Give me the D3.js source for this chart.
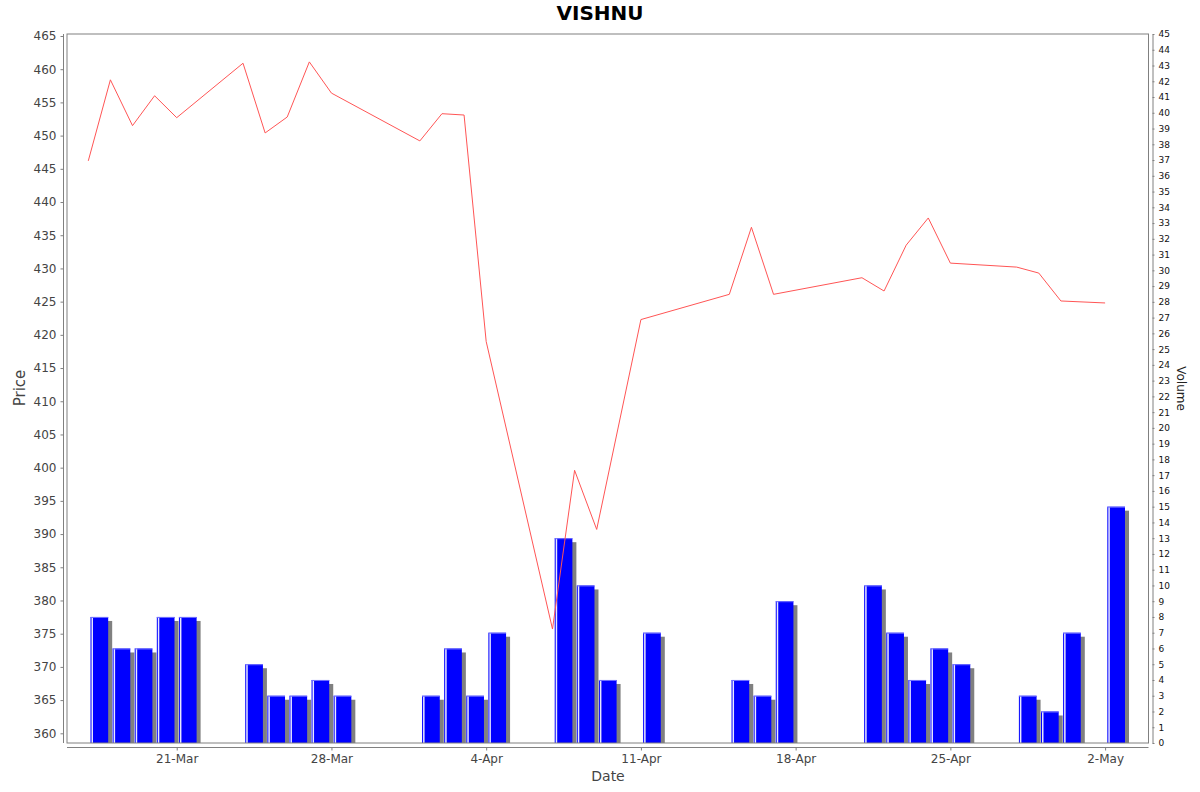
<!DOCTYPE html>
<html>
<head>
<meta charset="utf-8">
<script src="https://cdn.jsdelivr.net/npm/d3@7"></script>
<style>
  body { margin: 0; background: #fff; }
  text { font-family: "DejaVu Sans", sans-serif; }
</style>
</head>
<body>
<svg id="chart" width="1200" height="792"></svg>
<script>
// trading days (NSE, 2025)
const dates = ["2025-03-17", "2025-03-18", "2025-03-19", "2025-03-20", "2025-03-21",
               "2025-03-24", "2025-03-25", "2025-03-26", "2025-03-27", "2025-03-28",
               "2025-04-01", "2025-04-02", "2025-04-03", "2025-04-04",
               "2025-04-07", "2025-04-08", "2025-04-09", "2025-04-11",
               "2025-04-15", "2025-04-16", "2025-04-17",
               "2025-04-21", "2025-04-22", "2025-04-23", "2025-04-24", "2025-04-25",
               "2025-04-28", "2025-04-29", "2025-04-30", "2025-05-02"];
const prices = [446.2, 458.4, 451.5, 456.0, 452.7,
                460.9, 450.4, 452.8, 461.1, 456.4,
                449.2, 453.3, 453.1, 419.0,
                375.7, 399.6, 390.7, 422.3,
                426.1, 436.2, 426.1,
                428.6, 426.6, 433.5, 437.6, 430.8,
                430.2, 429.3, 425.1, 424.8];
const volumes = [8, 6, 6, 8, 8,
                 5, 3, 3, 4, 3,
                 3, 6, 3, 7,
                 13, 10, 4, 7,
                 4, 3, 9,
                 10, 7, 4, 6, 5,
                 3, 2, 7, 15];
const dateTicks = ["2025-03-21", "2025-03-28", "2025-04-04", "2025-04-11",
                   "2025-04-18", "2025-04-25", "2025-05-02"];
const priceTicks = d3.range(360, 466, 5);
const volumeTicks = d3.range(0, 46, 1);

const svg = d3.select("#chart");
const plotLeft = 67, plotRight = 1148.5, plotTop = 34, plotBottom = 743;
const parse = d3.utcParse("%Y-%m-%d");
const data = dates.map((d, i) => ({date: parse(d), price: prices[i], volume: volumes[i]}));

const x = d3.scaleUtc()
    .domain([Date.UTC(2025, 2, 16, 0, 53), Date.UTC(2025, 4, 3, 23, 7)])
    .range([plotLeft, plotRight]);
const yPrice = d3.scaleLinear().domain([358.54, 465.3]).range([plotBottom, plotTop]);
const yVol = d3.scaleLinear().domain([0, 45]).range([plotBottom, plotTop]);

svg.append("defs").append("clipPath").attr("id", "plot")
  .append("rect").attr("x", plotLeft).attr("y", plotTop)
    .attr("width", plotRight - plotLeft).attr("height", plotBottom - plotTop);

// title
svg.append("text").attr("x", 600).attr("y", 20).attr("text-anchor", "middle")
    .attr("font-size", 20).attr("font-weight", "bold").attr("fill", "#000").text("VISHNU");

// volume bars
let bars = svg.append("g").attr("clip-path", "url(#plot)");
data.forEach(d => {
    let next = d3.utcDay.offset(d.date, 1);
    let dw = x(next) - x(d.date);
    let x0 = x(d.date) + 0.1 * dw;
    let w = 0.8 * dw;
    let y0 = yVol(d.volume);
    bars.append("rect").attr("x", x0 + 4).attr("y", y0 + 4).attr("width", w).attr("height", plotBottom - y0)
        .attr("fill", "#808080");
    bars.append("rect").attr("x", x0).attr("y", y0).attr("width", w).attr("height", plotBottom - y0)
        .attr("fill", "#0000ff");
    bars.append("rect").attr("x", x0 + 1).attr("y", y0).attr("width", 1.5).attr("height", plotBottom - y0)
        .attr("fill", "#e8e8ff");
    bars.append("rect").attr("x", x0).attr("y", y0).attr("width", w).attr("height", 1)
        .attr("fill", "#7070ff");
});

// price line
let line = d3.line().x(d => x(d.date)).y(d => yPrice(d.price));
svg.append("path").datum(data).attr("clip-path", "url(#plot)")
    .attr("d", line).attr("fill", "none").attr("stroke", "#ff5555").attr("stroke-width", 1);

// plot frame
svg.append("rect").attr("x", plotLeft).attr("y", plotTop)
    .attr("width", plotRight - plotLeft).attr("height", plotBottom - plotTop)
    .attr("fill", "none").attr("stroke", "#808080").attr("stroke-width", 1);

// axes
function styleAxis(g, color, size) {
    g.select(".domain").attr("stroke", "#808080");
    g.selectAll(".tick line").attr("stroke", "#808080");
    g.selectAll(".tick text").attr("fill", color).attr("font-size", size)
        .attr("font-family", "DejaVu Sans, sans-serif");
}

let gLeft = svg.append("g").attr("transform", "translate(63.5,0)")
    .call(d3.axisLeft(yPrice).tickValues(priceTicks).tickSize(3).tickSizeOuter(0).tickPadding(4));
styleAxis(gLeft, "#444", 12);
gLeft.select(".domain").attr("d", `M0,${plotTop}V${plotBottom}`);

let gRight = svg.append("g").attr("transform", "translate(1152.5,0)")
    .call(d3.axisRight(yVol).tickValues(volumeTicks).tickSize(2).tickSizeOuter(0).tickPadding(4));
styleAxis(gRight, "#111", 9);

let gBottom = svg.append("g").attr("transform", "translate(0,747.5)")
    .call(d3.axisBottom(x).tickValues(dateTicks.map(parse)).tickFormat(d3.utcFormat("%-d-%b"))
        .tickSize(3).tickSizeOuter(0).tickPadding(4));
styleAxis(gBottom, "#444", 12);
gBottom.select(".domain").attr("d", `M${plotLeft},0H${plotRight}`);

// axis titles
svg.append("text").attr("transform", "translate(25,388) rotate(-90)").attr("text-anchor", "middle")
    .attr("font-size", 15).attr("fill", "#444").text("Price");
svg.append("text").attr("x", 608).attr("y", 781).attr("text-anchor", "middle")
    .attr("font-size", 14).attr("fill", "#444").text("Date");
svg.append("text").attr("transform", "translate(1177,388.5) rotate(90)").attr("text-anchor", "middle")
    .attr("font-size", 12).attr("fill", "#222").text("Volume");
</script>
</body>
</html>
